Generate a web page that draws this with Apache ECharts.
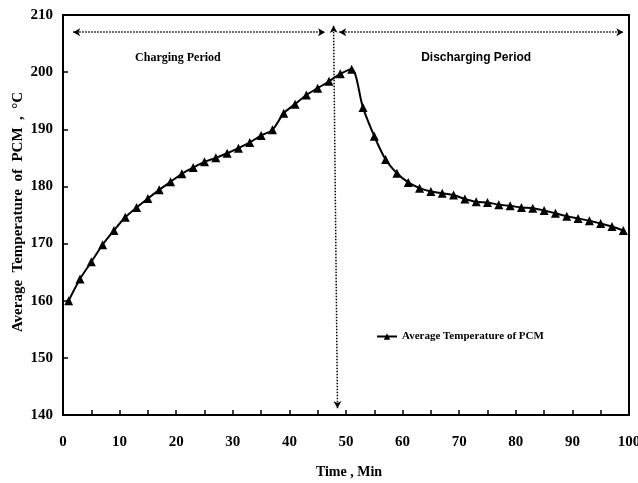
<!DOCTYPE html>
<html>
<head>
<meta charset="UTF-8">
<title>Average Temperature of PCM</title>
<script src="https://cdn.jsdelivr.net/npm/echarts@6/dist/echarts.min.js"></script>
<style>
  html, body { margin: 0; padding: 0; background: #fff; }
  #main { width: 638px; height: 483px; }
</style>
</head>
<body>
<div id="main"></div>
<script>
// time (min) and average PCM temperature (°C)
var times = [1, 3, 5, 7, 9, 11, 13, 15, 17, 19, 21, 23, 25, 27, 29, 31, 33, 35, 37, 39,
             41, 43, 45, 47, 49, 51, 53, 55, 57, 59, 61, 63, 65, 67, 69, 71, 73, 75, 77, 79,
             81, 83, 85, 87, 89, 91, 93, 95, 97, 99];
var temps = [160.0, 163.8, 166.8, 169.8, 172.3, 174.6, 176.3, 177.9, 179.4, 180.8,
             182.2, 183.3, 184.3, 185.0, 185.8, 186.7, 187.7, 188.9, 189.9, 192.8,
             194.4, 196.0, 197.2, 198.4, 199.7, 200.5, 193.8, 188.8, 184.7, 182.3,
             180.7, 179.7, 179.1, 178.8, 178.5, 177.8, 177.3, 177.2, 176.8, 176.6,
             176.3, 176.2, 175.8, 175.3, 174.8, 174.4, 174.0, 173.5, 173.0, 172.3];

// period arrows (data units) and their labels
var chargeArrow = [[1.8, 207.0], [46.3, 207.0]];
var dischargeArrow = [[48.8, 207.0], [99.0, 207.0]];
var switchArrow = [[47.8, 208.1], [48.5, 141.2]];
var periodLabels = [
    { name: 'Charging Period', coord: [20.3, 202.5] },
    { name: 'Discharging Period', coord: [73.0, 202.5] }
];

var serif = '"Liberation Serif", "Times New Roman", serif';

var chart = echarts.init(document.getElementById('main'));

var points = times.map(function (t, i) { return [t, temps[i]]; });

var option = {
    animation: false,
    grid: {
        left: 63, right: 9, top: 15, bottom: 68,
        outerBoundsMode: 'none',
        show: true,
        borderColor: '#000',
        borderWidth: 2
    },
    // y axis title, placed by hand so it sits close to the tick labels
    graphic: [{
        type: 'text',
        x: 18, y: 212,
        rotation: Math.PI / 2,
        silent: true,
        style: {
            text: 'Average  Temperature  of  PCM  ,  °C',
            font: 'bold 15px ' + serif,
            fill: '#000',
            align: 'center',
            verticalAlign: 'middle'
        }
    }],
    legend: {
        left: 371, top: 326,
        itemWidth: 20, itemHeight: 8,
        itemGap: 2,
        textStyle: { fontFamily: serif, fontWeight: 'bold', fontSize: 11, color: '#000' },
        data: ['Average Temperature of PCM']
    },
    xAxis: {
        type: 'value',
        min: 0, max: 100, interval: 5,
        name: 'Time , Min',
        nameLocation: 'middle',
        nameGap: 50,
        nameTextStyle: { fontFamily: serif, fontWeight: 'bold', fontSize: 14, color: '#000', padding: [0, 0, 0, 6] },
        axisLine: { lineStyle: { color: '#000', width: 2 } },
        axisTick: { inside: true, length: 5, lineStyle: { color: '#000', width: 1.5 } },
        axisLabel: {
            margin: 20,
            fontFamily: serif, fontWeight: 'bold', fontSize: 15, color: '#000',
            formatter: function (v) { return v % 10 === 0 ? v : ''; }
        },
        splitLine: { show: false }
    },
    yAxis: {
        type: 'value',
        min: 140, max: 210, interval: 10,
        axisLine: { show: true, lineStyle: { color: '#000', width: 2 } },
        axisTick: { show: true, inside: true, length: 5, lineStyle: { color: '#000', width: 1.5 } },
        axisLabel: { margin: 10, fontFamily: serif, fontWeight: 'bold', fontSize: 15, color: '#000' },
        splitLine: { show: false }
    },
    series: [{
        name: 'Average Temperature of PCM',
        type: 'line',
        data: points,
        smooth: 0.3,
        symbol: 'triangle',
        symbolSize: 9,
        itemStyle: { color: '#000' },
        lineStyle: { color: '#000', width: 2 },
        markLine: {
            silent: true,
            symbol: ['arrow', 'arrow'],
            symbolSize: [6, 7],
            label: { show: false },
            lineStyle: { color: '#000', type: 'dotted', width: 1.5 },
            data: [
                [{ coord: chargeArrow[0] }, { coord: chargeArrow[1] }],
                [{ coord: dischargeArrow[0] }, { coord: dischargeArrow[1] }],
                [{ coord: switchArrow[0] }, { coord: switchArrow[1] }]
            ]
        },
        markPoint: {
            silent: true,
            symbol: 'circle',
            symbolSize: 0,
            label: {
                show: true,
                position: 'inside',
                color: '#000',
                formatter: function (p) { return p.name; }
            },
            data: [
                {
                    name: periodLabels[0].name, coord: periodLabels[0].coord,
                    label: { fontFamily: serif, fontWeight: 'bold', fontSize: 12 }
                },
                {
                    name: periodLabels[1].name, coord: periodLabels[1].coord,
                    label: { fontFamily: '"Liberation Sans Narrow", "Liberation Sans", sans-serif', fontWeight: 'bold', fontSize: 12 }
                }
            ]
        }
    }]
};

chart.setOption(option);
</script>
</body>
</html>
